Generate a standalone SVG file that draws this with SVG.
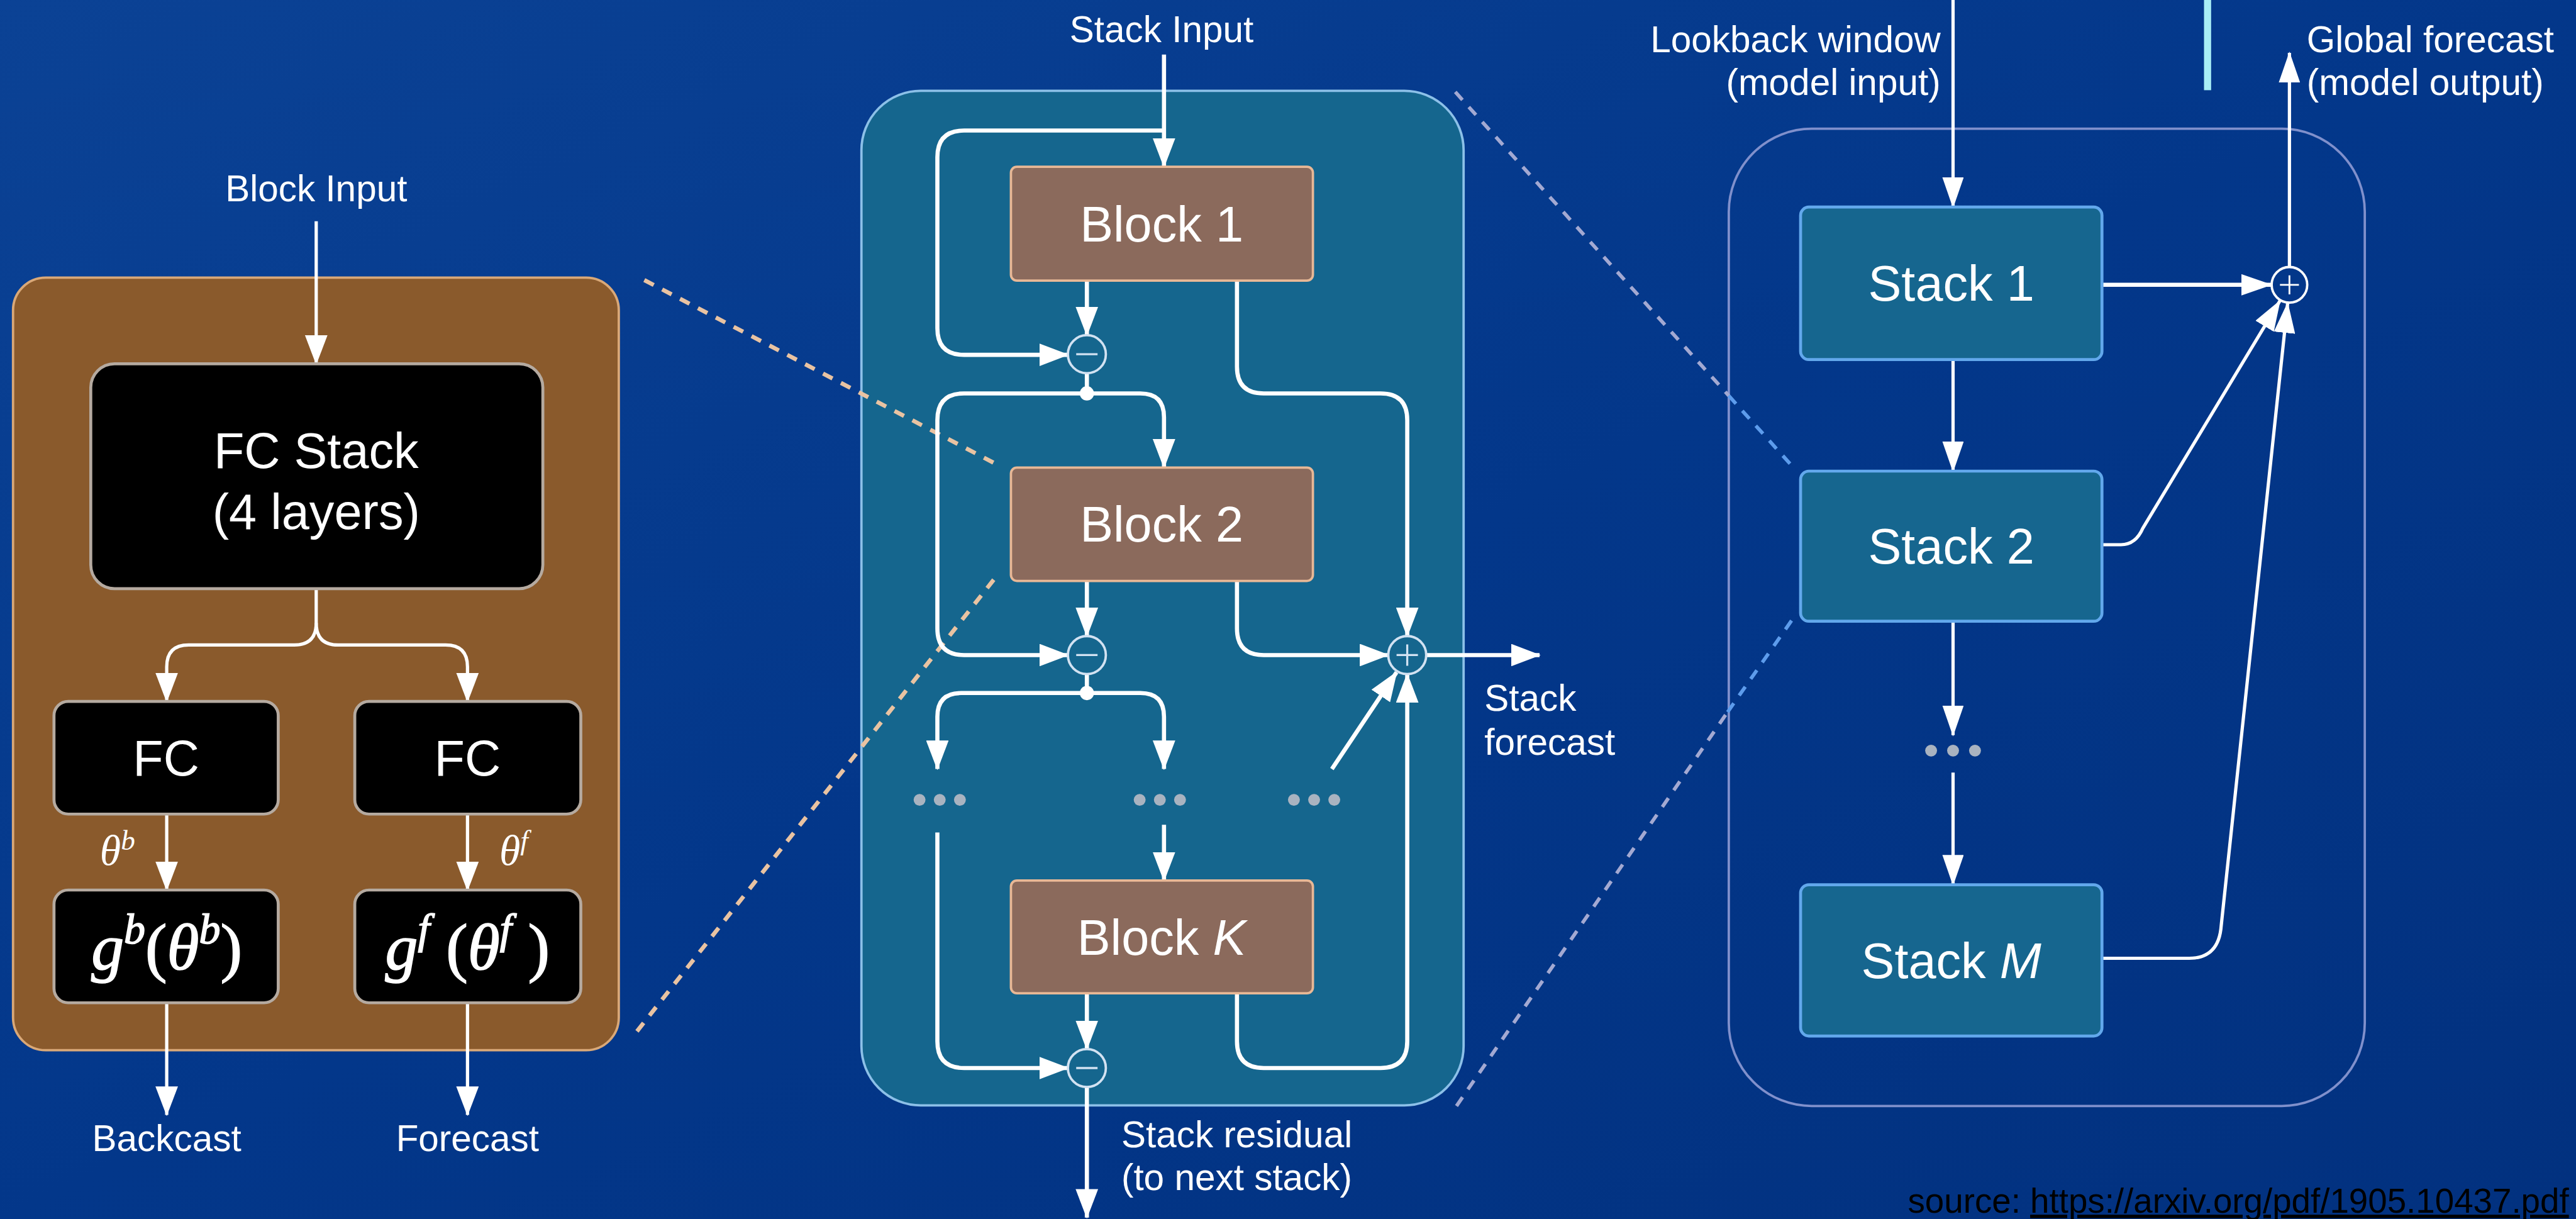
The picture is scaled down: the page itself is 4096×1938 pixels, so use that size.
<svg xmlns="http://www.w3.org/2000/svg" width="4096" height="1938" viewBox="0 0 4096 1938">
<defs>
<linearGradient id="bg" x1="0" y1="0" x2="1" y2="1">
<stop offset="0" stop-color="#0b4295"/>
<stop offset="0.5" stop-color="#03378a"/>
<stop offset="1" stop-color="#02317f"/>
</linearGradient>
<marker id="ah" markerUnits="userSpaceOnUse" markerWidth="50" markerHeight="38" refX="48" refY="19" orient="auto">
<path d="M0,0 L50,19 L0,38 Z" fill="#ffffff"/>
</marker>
<marker id="ahs" markerUnits="userSpaceOnUse" markerWidth="52" markerHeight="36" refX="50" refY="18" orient="auto">
<path d="M0,0 L52,18 L0,36 Z" fill="#ffffff"/>
</marker>
<style>
.lbl{font-family:"Liberation Sans",Arial,Helvetica,sans-serif;font-size:62px;fill:#ffffff}
.node{font-family:"Liberation Sans",Arial,Helvetica,sans-serif;font-size:84px;fill:#ffffff;text-anchor:middle}
.math{font-family:"Liberation Serif","Times New Roman",serif;fill:#ffffff}
.mathb{font-family:"Liberation Serif","Times New Roman",serif;fill:#ffffff;stroke:#ffffff;stroke-width:1.8}
.blk{fill:#000000;stroke:#b5aaa0;stroke-width:5}
.brn{fill:#8b6a5c;stroke:#e8b896;stroke-width:4}
.stk{fill:#16668f;stroke:#62a8ec;stroke-width:5}
.cw{fill:none;stroke:#ffffff;stroke-width:7;stroke-linejoin:round}
.cl{fill:none;stroke:#ffffff;stroke-width:5.5;stroke-linejoin:round}
.dot{fill:#a9b3c0}
.op{fill:#15668e;stroke:#d2e2f2;stroke-width:4}
.opl{stroke:#d2e2f2;stroke-width:3.5;fill:none}
.dpeach{stroke:#e9c3a2;stroke-width:7;stroke-dasharray:18 16;fill:none}
.dgray{stroke:#a3a9d2;stroke-width:6;stroke-dasharray:18 16;fill:none}
.dblue{stroke:#5d9cec;stroke-width:6;stroke-dasharray:18 16;fill:none}
</style>
</defs>
<rect x="0" y="0" width="4096" height="1938" fill="url(#bg)"/>
<g transform="scale(0.94334)">

<!-- decorative cyan bar -->
<rect x="3715" y="0" width="12" height="152" fill="#a8eef6"/>

<!-- containers -->
<g id="block-panel">
<rect x="22" y="468" width="1021" height="1302" rx="55" fill="#8a5a2c" stroke="#d9a878" stroke-width="4"/>
</g>
<g id="stack-panel">
<rect x="1452" y="153" width="1015" height="1710" rx="100" fill="#15668e" stroke="#8cc0e8" stroke-width="4"/>
</g>
<g id="model-panel">
<rect x="2914" y="217" width="1072" height="1647" rx="140" fill="none" stroke="#8090cc" stroke-width="4"/>
</g>

<!-- zoom guide lines -->
<g id="guides">
<line class="dpeach" x1="1086" y1="472" x2="1675" y2="780"/>
<line class="dpeach" x1="1675" y1="977" x2="1073" y2="1739"/>
<line class="dgray" x1="2453" y1="155" x2="2914" y2="667"/>
<line class="dblue" x1="2914" y1="667" x2="3024" y2="789"/>
<line class="dgray" x1="2455" y1="1864" x2="2912" y2="1200"/>
<line class="dblue" x1="2912" y1="1200" x2="3026" y2="1037"/>
</g>

<!-- connectors -->
<g id="connectors">
<!-- left panel -->
<path class="cl" d="M533,373 L533,613" marker-end="url(#ah)"/>
<path class="cl" d="M533,992 L533,1050 Q533,1087 496,1087 L318,1087 Q281,1087 281,1124 L281,1182" marker-end="url(#ah)"/>
<path class="cl" d="M533,1050 Q533,1087 570,1087 L751,1087 Q788,1087 788,1124 L788,1182" marker-end="url(#ah)"/>
<path class="cl" d="M281,1372 L281,1500" marker-end="url(#ah)"/>
<path class="cl" d="M788,1372 L788,1500" marker-end="url(#ah)"/>
<path class="cl" d="M281,1690 L281,1879" marker-end="url(#ah)"/>
<path class="cl" d="M788,1690 L788,1879" marker-end="url(#ah)"/>

<!-- middle panel -->
<path class="cw" d="M1962,92 L1962,281" marker-end="url(#ah)"/>
<path class="cw" d="M1962,220 L1625,220 Q1580,220 1580,265 L1580,553 Q1580,598 1625,598 L1800,598" marker-end="url(#ah)"/>
<path class="cw" d="M1832,473 L1832,565" marker-end="url(#ah)"/>
<path class="cw" d="M1832,629 L1832,663"/>
<path class="cw" d="M1832,663 L1922,663 Q1962,663 1962,703 L1962,788" marker-end="url(#ah)"/>
<path class="cw" d="M1832,663 L1625,663 Q1580,663 1580,708 L1580,1059 Q1580,1104 1625,1104 L1800,1104" marker-end="url(#ah)"/>
<path class="cw" d="M2085,473 L2085,618 Q2085,663 2130,663 L2327,663 Q2372,663 2372,708 L2372,1072" marker-end="url(#ah)"/>
<path class="cw" d="M1832,979 L1832,1072" marker-end="url(#ah)"/>
<path class="cw" d="M2085,979 L2085,1059 Q2085,1104 2130,1104 L2340,1104" marker-end="url(#ah)"/>
<path class="cw" d="M2404,1104 L2595,1104" marker-end="url(#ah)"/>
<path class="cw" d="M1832,1136 L1832,1168"/>
<path class="cw" d="M1832,1168 L1620,1168 Q1580,1168 1580,1208 L1580,1296" marker-end="url(#ah)"/>
<path class="cw" d="M1832,1168 L1922,1168 Q1962,1168 1962,1208 L1962,1296" marker-end="url(#ah)"/>
<path class="cw" d="M2245,1296 L2354,1133" marker-end="url(#ah)"/>
<path class="cw" d="M1962,1390 L1962,1484" marker-end="url(#ah)"/>
<path class="cw" d="M1580,1403 L1580,1755 Q1580,1800 1625,1800 L1800,1800" marker-end="url(#ah)"/>
<path class="cw" d="M1832,1674 L1832,1768" marker-end="url(#ah)"/>
<path class="cw" d="M2085,1674 L2085,1755 Q2085,1800 2130,1800 L2327,1800 Q2372,1800 2372,1755 L2372,1136" marker-end="url(#ah)"/>
<path class="cw" d="M1832,1832 L1832,2052" marker-end="url(#ah)"/>
<circle cx="1832" cy="663" r="12" fill="#ffffff"/>
<circle cx="1832" cy="1168" r="12" fill="#ffffff"/>

<!-- right panel -->
<path class="cl" d="M3292,0 L3292,349" marker-end="url(#ahs)"/>
<path class="cl" d="M3292,606 L3292,794" marker-end="url(#ahs)"/>
<path class="cl" d="M3292,1047 L3292,1239" marker-end="url(#ahs)"/>
<path class="cl" d="M3292,1302 L3292,1491" marker-end="url(#ahs)"/>
<path class="cw" d="M3543,480 L3828,480" marker-end="url(#ahs)"/>
<path class="cl" d="M3543,918 L3575,918 Q3600,918 3612,890 L3843,507" marker-end="url(#ahs)"/>
<path class="cl" d="M3543,1615 L3690,1615 Q3740,1615 3744,1560 L3856,511" marker-end="url(#ahs)"/>
<path class="cl" d="M3859,449 L3859,89" marker-end="url(#ahs)"/>
</g>

<!-- ellipsis dots -->
<g id="ellipses">
<circle class="dot" cx="1550" cy="1348" r="10"/><circle class="dot" cx="1584" cy="1348" r="10"/><circle class="dot" cx="1618" cy="1348" r="10"/>
<circle class="dot" cx="1921" cy="1348" r="10"/><circle class="dot" cx="1955" cy="1348" r="10"/><circle class="dot" cx="1989" cy="1348" r="10"/>
<circle class="dot" cx="2181" cy="1348" r="10"/><circle class="dot" cx="2215" cy="1348" r="10"/><circle class="dot" cx="2249" cy="1348" r="10"/>
<circle class="dot" cx="3255" cy="1265" r="10"/><circle class="dot" cx="3292" cy="1265" r="10"/><circle class="dot" cx="3329" cy="1265" r="10"/>
</g>

<!-- operators -->
<g id="minus-1"><circle class="op" cx="1832" cy="597" r="32"/><line class="opl" x1="1814" y1="597" x2="1850" y2="597"/></g>
<g id="minus-2"><circle class="op" cx="1832" cy="1104" r="32"/><line class="opl" x1="1814" y1="1104" x2="1850" y2="1104"/></g>
<g id="minus-3"><circle class="op" cx="1832" cy="1800" r="32"/><line class="opl" x1="1814" y1="1800" x2="1850" y2="1800"/></g>
<g id="plus-stack"><circle class="op" cx="2372" cy="1104" r="32"/><path class="opl" d="M2354,1104 L2390,1104 M2372,1086 L2372,1122"/></g>
<g id="plus-model"><circle cx="3859" cy="480" r="30" fill="#03378a" stroke="#ffffff" stroke-width="4"/><path d="M3843,480 L3875,480 M3859,464 L3859,496" stroke="#ffffff" stroke-width="3" fill="none"/></g>

<!-- left panel nodes -->
<g id="fc-stack">
<rect class="blk" x="153" y="613" width="762" height="379" rx="40"/>
<text class="node" x="533" y="789" font-size="88">FC Stack</text>
<text class="node" x="533" y="891" font-size="62">(4 layers)</text>
</g>
<g id="fc-b">
<rect class="blk" x="91" y="1182" width="378" height="190" rx="24"/>
<text class="node" x="280" y="1307" font-size="86">FC</text>
</g>
<g id="fc-f">
<rect class="blk" x="598" y="1182" width="381" height="190" rx="24"/>
<text class="node" x="788" y="1307" font-size="86">FC</text>
</g>
<g id="g-b">
<rect class="blk" x="91" y="1500" width="378" height="190" rx="24"/>
<text class="mathb" x="281" y="1634" font-size="110" text-anchor="middle"><tspan font-style="italic">g</tspan><tspan font-style="italic" font-size="72" dy="-44">b</tspan><tspan dy="44">(</tspan><tspan font-style="italic">θ</tspan><tspan font-style="italic" font-size="72" dy="-44">b</tspan><tspan dy="44">)</tspan></text>
</g>
<g id="g-f">
<rect class="blk" x="598" y="1500" width="381" height="190" rx="24"/>
<text class="mathb" x="788" y="1634" font-size="110" text-anchor="middle"><tspan font-style="italic">g</tspan><tspan font-style="italic" font-size="72" dy="-44">f</tspan><tspan dy="44"> (</tspan><tspan font-style="italic">θ</tspan><tspan font-style="italic" font-size="72" dy="-44">f</tspan><tspan dy="44"> )</tspan></text>
</g>
<g id="left-labels">
<text class="lbl" x="533" y="339" text-anchor="middle">Block Input</text>
<text class="math" x="198" y="1458" font-size="72" text-anchor="middle"><tspan font-style="italic">θ</tspan><tspan font-style="italic" font-size="48" dy="-26">b</tspan></text>
<text class="math" x="866" y="1458" font-size="72" text-anchor="middle"><tspan font-style="italic">θ</tspan><tspan font-style="italic" font-size="48" dy="-26">f</tspan></text>
<text class="lbl" x="281" y="1940" text-anchor="middle">Backcast</text>
<text class="lbl" x="788" y="1940" text-anchor="middle">Forecast</text>
</g>

<!-- middle panel nodes -->
<g id="block-1">
<rect class="brn" x="1704" y="281" width="509" height="192" rx="10"/>
<text class="node" x="1958" y="407">Block 1</text>
</g>
<g id="block-2">
<rect class="brn" x="1704" y="788" width="509" height="191" rx="10"/>
<text class="node" x="1958" y="913">Block 2</text>
</g>
<g id="block-k">
<rect class="brn" x="1704" y="1484" width="509" height="190" rx="10"/>
<text class="node" x="1958" y="1609">Block <tspan font-style="italic">K</tspan></text>
</g>
<g id="middle-labels">
<text class="lbl" x="1958" y="71" text-anchor="middle">Stack Input</text>
<text class="lbl" x="2502" y="1198">Stack</text>
<text class="lbl" x="2502" y="1272">forecast</text>
<text class="lbl" x="1890" y="1934">Stack residual</text>
<text class="lbl" x="1890" y="2006">(to next stack)</text>
</g>

<!-- right panel nodes -->
<g id="stack-1">
<rect class="stk" x="3035" y="349" width="508" height="257" rx="14"/>
<text class="node" x="3289" y="507">Stack 1</text>
</g>
<g id="stack-2">
<rect class="stk" x="3035" y="794" width="508" height="253" rx="14"/>
<text class="node" x="3289" y="950">Stack 2</text>
</g>
<g id="stack-m">
<rect class="stk" x="3035" y="1491" width="508" height="255" rx="14"/>
<text class="node" x="3289" y="1648">Stack <tspan font-style="italic">M</tspan></text>
</g>
<g id="right-labels">
<text class="lbl" x="3271" y="88" text-anchor="end">Lookback window</text>
<text class="lbl" x="3271" y="160" text-anchor="end">(model input)</text>
<text class="lbl" x="3888" y="88">Global forecast</text>
<text class="lbl" x="3888" y="160">(model output)</text>
</g>

<g id="source">
<text x="4330" y="2044" text-anchor="end" font-family="Liberation Sans,Arial,sans-serif" font-size="58" fill="#000000">source: <tspan text-decoration="underline">https://arxiv.org/pdf/1905.10437.pdf</tspan></text>
</g>
</g>
</svg>
